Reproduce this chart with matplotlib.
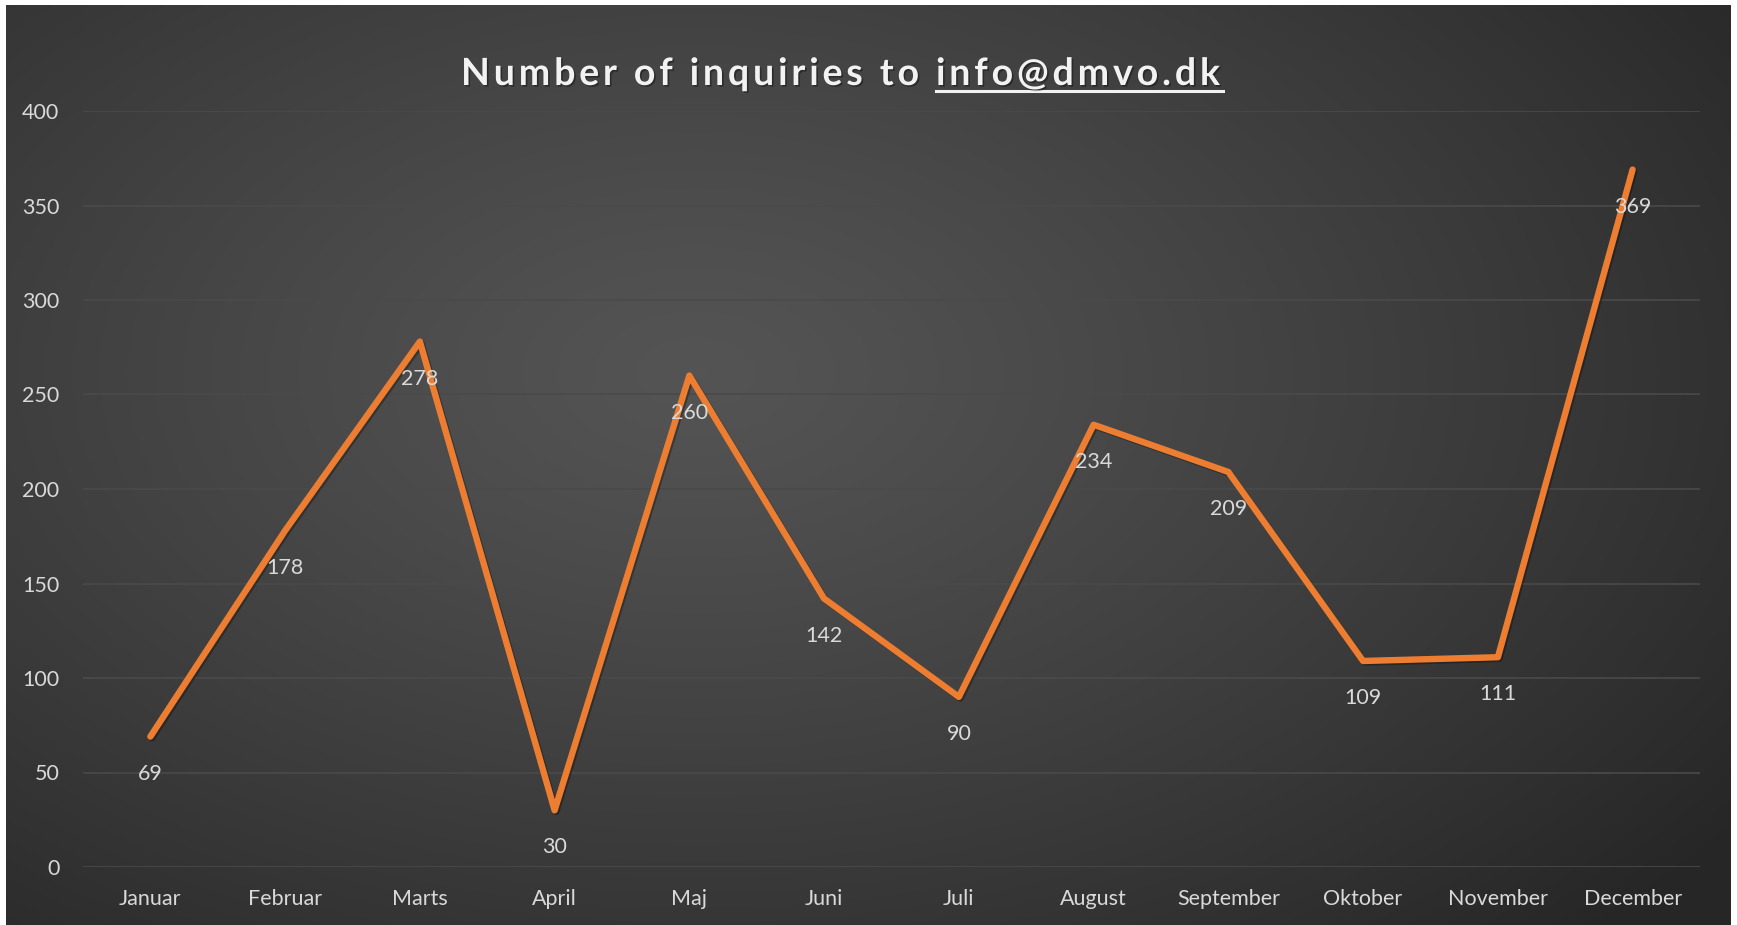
import numpy as np
import matplotlib
matplotlib.use("Agg")
import matplotlib.pyplot as plt
import matplotlib.patheffects as pe
from matplotlib.lines import Line2D

months = ["Januar", "Februar", "Marts", "April", "Maj", "Juni", "Juli",
          "August", "September", "Oktober", "November", "December"]
inquiries = [69, 178, 278, 30, 260, 142, 90, 234, 209, 109, 111, 369]
yticks = [0, 50, 100, 150, 200, 250, 300, 350, 400]

title_main = "Number of inquiries to "
title_link = "info@dmvo.dk"

W, H = 1737, 925
fig = plt.figure(figsize=(W / 100, H / 100), dpi=100, facecolor="white")

# dark radial background (white strip at top/left/right like the screenshot)
bg = fig.add_axes([6 / W, 0, (1731 - 6) / W, (925 - 5) / H], zorder=0)
yy, xx = np.mgrid[0:1:400j, 0:1:800j]
r = np.sqrt(((xx - 0.40) / 0.75) ** 2 + ((yy - 0.40) / 0.85) ** 2)
r = np.clip(r, 0, 1)
shade = 0.33 - 0.18 * r ** 1.2
img = np.dstack([shade, shade, shade])
bg.imshow(img, aspect="auto", extent=[0, 1, 1, 0], interpolation="bilinear")
bg.set_axis_off()

ax = fig.add_axes([83 / W, 1 - 867 / H, (1700 - 83) / W, (867 - 111) / H], zorder=1)
ax.set_facecolor("none")
x = np.arange(len(months))
ax.plot(x, inquiries, color="#ED7D31", lw=4.6, solid_capstyle="round",
        solid_joinstyle="round", zorder=3,
        path_effects=[pe.SimpleLineShadow(offset=(1.2, -1.2), alpha=0.3), pe.Normal()])

lab_font = "Lato"
for xi, v in zip(x, inquiries):
    ax.annotate(str(v), (xi, v), xytext=(0, -37), textcoords="offset pixels",
                ha="center", va="center", color="#D9D9D9", fontsize=15.5,
                family=lab_font, zorder=4)

ax.set_xlim(-0.5, len(months) - 0.5)
ax.set_ylim(0, 400)
ax.set_yticks(yticks)
ax.set_xticks(x)
ax.set_xticklabels(months)
ax.tick_params(length=0, colors="#D9D9D9", labelsize=15.5)
ax.tick_params(axis="y", pad=17)
ax.tick_params(axis="x", pad=16)
for lbl in ax.get_xticklabels() + ax.get_yticklabels():
    lbl.set_family(lab_font)
ax.grid(axis="y", color="#4a4a4a", lw=1.2)
ax.set_axisbelow(True)
for s in ax.spines.values():
    s.set_visible(False)

# title with letter spacing, drawn char by char
renderer = fig.canvas.get_renderer()
tprops = dict(family="Lato", fontsize=27, fontweight="bold", color="#F2F2F2")
shadow = [pe.withSimplePatchShadow(offset=(1.2, -1.2), shadow_rgbFace="black", alpha=0.35)]
full = title_main + title_link


def width_of(s):
    t = fig.text(0, 0, s + "x", **tprops)
    w = t.get_window_extent(renderer).width
    t.remove()
    t = fig.text(0, 0, "x", **tprops)
    w -= t.get_window_extent(renderer).width
    t.remove()
    return w


natural = width_of(full)
target = 1220 - 461
track = max(0.0, (target - natural) / (len(full) - 1))
x0 = 461
base_y = 1 - 85 / H
link_start = None
for i, ch in enumerate(full):
    px = x0 + width_of(full[:i]) + i * track
    if i == len(title_main):
        link_start = px
    if ch != " ":
        fig.text(px / W, base_y, ch, ha="left", va="baseline",
                 path_effects=shadow, **tprops)
link_end = x0 + natural + (len(full) - 1) * track
fig.add_artist(Line2D([link_start / W, (link_end + 3) / W], [1 - 91 / H, 1 - 91 / H],
                      color="#F2F2F2", lw=2.2, transform=fig.transFigure))

fig.savefig("out.png", dpi=100, facecolor=fig.get_facecolor())
